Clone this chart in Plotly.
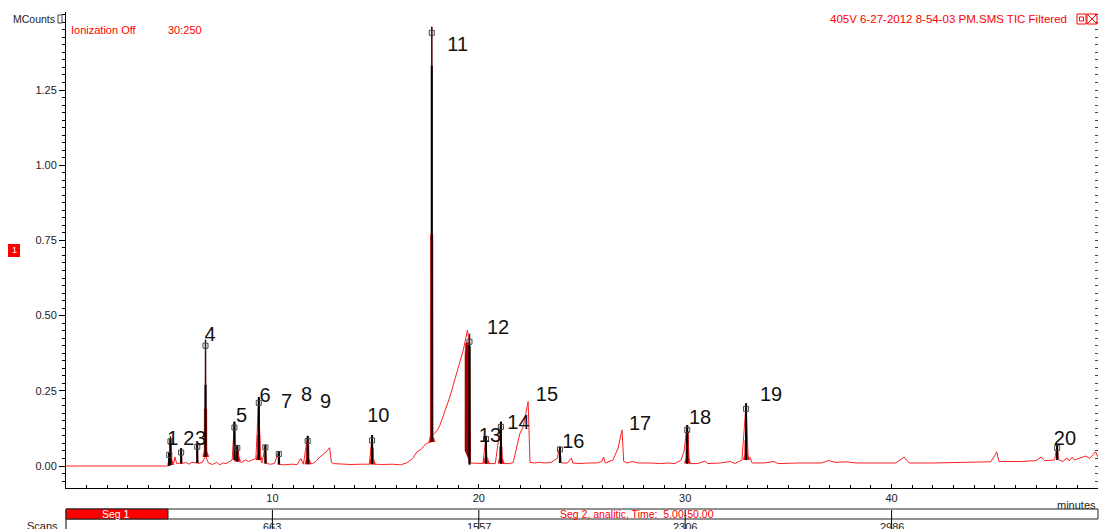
import plotly.graph_objects as go

# ---------------- data ----------------
trace_t = [0, 4.96, 4.99, 5.02, 5.06, 5.12, 5.22, 5.28, 5.36, 5.56, 5.58, 5.62, 5.8, 5.95, 6.1, 6.34,
           6.36, 6.4, 6.6, 6.74, 6.76, 6.78, 6.9, 7.1, 7.3, 7.45, 7.6, 7.75, 7.9, 8.05, 8.16, 8.22,
           8.3, 8.38, 8.5, 8.7, 8.85, 9.0, 9.2, 9.34, 9.42, 9.5, 9.66, 9.72, 9.9, 10.1, 10.31, 10.36,
           10.6, 10.9, 11.2, 11.38, 11.5, 11.71, 11.76, 11.95, 12.1, 12.3, 12.5, 12.65, 12.77, 12.86,
           12.95, 13.3, 13.8, 14.3, 14.7, 14.83, 14.9, 15.3, 15.8, 16.2, 16.5, 16.8, 17.0, 17.2,
           17.45, 17.7, 17.72, 17.74, 18.0, 18.12, 18.35, 18.6, 18.85, 19.09, 19.25, 19.45, 19.55,
           19.6, 19.9, 20.2, 20.35, 20.4, 20.8, 21.07, 21.12, 21.5, 21.67, 21.85, 21.99, 22.15, 22.3,
           22.39, 22.48, 22.7, 22.9, 23.2, 23.5, 23.8, 23.93, 24.0, 24.3, 24.49, 24.55, 24.9, 25.3,
           25.7, 25.95, 26.05, 26.12, 26.5, 26.75, 26.94, 27.02, 27.2, 27.45, 27.7, 28.3, 28.8, 29.2,
           29.5, 29.8, 29.94, 30.1, 30.2, 30.6, 30.95, 31.1, 31.7, 32.2, 32.4, 32.75, 32.95, 33.05,
           33.12, 33.25, 33.8, 34.3, 34.5, 35.5, 36.6, 36.95, 37.3, 37.8, 38.3, 39.0, 40.2, 40.61,
           40.85, 42.0, 43.5, 44.8, 45.0, 45.09, 45.2, 46.3, 47.0, 47.25, 47.4, 47.9, 48.02, 48.1,
           48.3, 48.5, 48.6, 48.75, 48.85, 49.1, 49.4, 49.6, 49.88, 50.0]
trace_v = [0, 0, 0.045, 0.003, 0.098, 0.005, 0.01, 0.03, 0.008, 0.01, 0.059, 0.008, 0.012, 0.006, 0.012, 0.01,
           0.075, 0.008, 0.012, 0.03, 0.42, 0.03, 0.01, 0.005, 0.012, 0.004, 0.01, 0.008, 0.014, 0.02, 0.147, 0.03,
           0.07, 0.015, 0.012, 0.02, 0.015, 0.02, 0.025, 0.229, 0.02, 0.01, 0.07, 0.008, 0.006, 0.008, 0.05, 0.005,
           0.004, 0.006, 0.005, 0.025, 0.006, 0.10, 0.008, 0.008, 0.015, 0.03, 0.04, 0.05, 0.061, 0.012,
           0.008, 0.006, 0.005, 0.006, 0.006, 0.103, 0.006, 0.005, 0.006, 0.004, 0.01, 0.025, 0.047, 0.055,
           0.075, 0.08, 1.46, 0.10, 0.12, 0.136, 0.18, 0.23, 0.29, 0.352, 0.386, 0.452, 0.40,
           0.01, 0.008, 0.008, 0.10, 0.008, 0.008, 0.147, 0.008, 0.008, 0.012, 0.07, 0.108, 0.13, 0.18,
           0.214, 0.012, 0.01, 0.012, 0.01, 0.012, 0.025, 0.064, 0.01, 0.01, 0.027, 0.01, 0.008, 0.01,
           0.01, 0.015, 0.03, 0.01, 0.02, 0.06, 0.12, 0.015, 0.01, 0.015, 0.01, 0.01, 0.008, 0.01,
           0.008, 0.02, 0.047, 0.136, 0.008, 0.008, 0.016, 0.008, 0.01, 0.015, 0.008, 0.02, 0.208, 0.025,
           0.03, 0.01, 0.01, 0.015, 0.008, 0.01, 0.01, 0.018, 0.012, 0.014, 0.01, 0.01, 0.01, 0.03,
           0.01, 0.01, 0.012, 0.014, 0.035, 0.047, 0.015, 0.015, 0.018, 0.03, 0.018, 0.02, 0.072, 0.02,
           0.015, 0.027, 0.017, 0.03, 0.02, 0.025, 0.033, 0.025, 0.047, 0.03]

# identified peaks (black sticks)
pk_t = [5.00, 5.06, 5.58, 6.36, 6.76, 8.16, 8.30, 9.34, 9.66, 10.31, 11.71, 14.83, 17.72, 19.55,
        20.35, 21.07, 23.93, 30.10, 32.95, 48.02]
pk_base = [0.0, 0.003, 0.008, 0.01, 0.03, 0.02, 0.015, 0.02, 0.008, 0.005, 0.006, 0.006, 0.08, 0.005,
           0.008, 0.008, 0.01, 0.008, 0.02, 0.02]
pk_top = [0.045, 0.098, 0.059, 0.075, 0.42, 0.147, 0.07, 0.229, 0.07, 0.05, 0.10, 0.103, 1.46, 0.44,
          0.10, 0.147, 0.064, 0.136, 0.208, 0.072]
pk_thick = [0.045, 0.09, 0.059, 0.075, 0.27, 0.147, 0.07, 0.229, 0.07, 0.05, 0.10, 0.103, 1.33, 0.40,
            0.10, 0.147, 0.064, 0.136, 0.208, 0.072]
pk_mark = [0.037, 0.082, 0.045, 0.064, 0.40, 0.128, 0.06, 0.21, 0.062, 0.04, 0.083, 0.085, 1.44, 0.413,
           0.09, 0.13, 0.055, 0.12, 0.19, 0.06]

# integrated areas (red fills)
fill_t = [5.06, 6.76, 8.30, 9.34, 11.71, 14.83, 17.72, 20.35, 21.07, 30.10, 32.95]
fill_base = [0.003, 0.03, 0.015, 0.02, 0.006, 0.006, 0.08, 0.008, 0.008, 0.008, 0.02]
fill_h = [0.05, 0.19, 0.05, 0.103, 0.07, 0.06, 0.77, 0.015, 0.064, 0.114, 0.086]
fill12_t = [19.33, 19.33, 19.37, 19.52, 19.57, 19.57]
fill12_v = [0.05, 0.37, 0.41, 0.41, 0.39, 0.01]

# peak labels
lab_text = ["1", "2", "3", "4", "5", "6", "7", "8", "9", "10", "11", "12", "13", "14", "15",
            "16", "17", "18", "19", "20"]
lab_t = [5.18, 5.95, 6.52, 6.98, 8.51, 9.64, 10.69, 11.66, 12.58, 15.13, 18.98, 20.93, 20.54,
         21.92, 23.3, 24.58, 27.81, 30.72, 34.16, 48.4]
lab_v = [0.086, 0.086, 0.086, 0.432, 0.164, 0.23, 0.209, 0.233, 0.21, 0.162, 1.396, 0.455, 0.097,
         0.14, 0.233, 0.075, 0.136, 0.156, 0.233, 0.086]

y_ticks = [0, 0.25, 0.5, 0.75, 1.0, 1.25]
x_ticks = [10, 20, 30, 40]
scan_labels = ["663", "1557", "2306", "2986"]
scan_pos = [10, 20, 30, 40]

# ---------------- figure ----------------
W, H = 1103, 529
L, R, T, B = 66, 5, 12, 41
PW, PH = W - L - R, H - T - B
FONT = "Arial, Liberation Sans, sans-serif"


def pxx(xp):
    return (xp - L) / PW


def pxy(yp):
    return (H - B - yp) / PH


fig = go.Figure()

# red fills
for t, b, h in zip(fill_t, fill_base, fill_h):
    fig.add_trace(go.Scatter(
        x=[t - 0.14, t - 0.07, t - 0.06, t + 0.06, t + 0.07, t + 0.16],
        y=[b, b + 0.02, h, h, b + 0.02, b],
        fill="toself", fillcolor="#ff0000", line=dict(color="#ff0000", width=0.5),
        mode="lines", hoverinfo="skip", showlegend=False))
fig.add_trace(go.Scatter(x=fill12_t, y=fill12_v, fill="toself", fillcolor="#a00000",
                         line=dict(color="#a00000", width=0.5), mode="lines",
                         hoverinfo="skip", showlegend=False))

# chromatogram trace
fig.add_trace(go.Scatter(x=trace_t, y=trace_v, mode="lines",
                         line=dict(color="#ff2020", width=1), hoverinfo="skip", showlegend=False))

# black sticks
xs_thin, ys_thin, xs_thick, ys_thick = [], [], [], []
for t, b, top, th in zip(pk_t, pk_base, pk_top, pk_thick):
    xs_thin += [t, t, None]
    ys_thin += [b, top, None]
    xs_thick += [t, t, None]
    ys_thick += [b, th, None]
fig.add_trace(go.Scatter(x=xs_thin, y=ys_thin, mode="lines", line=dict(color="#222222", width=1.5),
                         hoverinfo="skip", showlegend=False))
fig.add_trace(go.Scatter(x=xs_thick, y=ys_thick, mode="lines", line=dict(color="#000000", width=2),
                         hoverinfo="skip", showlegend=False))
fig.add_trace(go.Scatter(x=pk_t, y=pk_mark, mode="markers",
                         marker=dict(symbol="square-open", size=5, color="#444444", line=dict(width=1)),
                         hoverinfo="skip", showlegend=False))

# labels
fig.add_trace(go.Scatter(x=lab_t, y=lab_v, mode="text", text=lab_text,
                         textfont=dict(family=FONT, size=20, color="#111111"),
                         hoverinfo="skip", showlegend=False))

# dummy on right axis for mirrored minor ticks
fig.add_trace(go.Scatter(x=[0], y=[0], yaxis="y2", mode="markers", marker=dict(opacity=0),
                         hoverinfo="skip", showlegend=False))

yr = [-(488 - 466) / 300.8, (466 - 12) / 300.8]

fig.update_layout(
    width=W, height=H, autosize=False,
    margin=dict(l=L, r=R, t=T, b=B),
    plot_bgcolor="white", paper_bgcolor="white",
    font=dict(family=FONT, size=11, color="#222222"),
    xaxis=dict(range=[0, 50], showgrid=False, zeroline=False, showline=True, linecolor="#000",
               linewidth=1, ticks="inside", tickvals=x_ticks, ticklen=4, tickcolor="#000",
               tickfont=dict(size=11, color="#222"),
               minor=dict(tickmode="linear", tick0=0, dtick=1, ticks="inside", ticklen=3,
                          tickcolor="#000", showgrid=False)),
    yaxis=dict(range=yr, showgrid=False, zeroline=False, showline=True, linecolor="#000",
               linewidth=1, ticks="outside", tickvals=y_ticks, tickformat=".2f", ticklen=6,
               tickcolor="#000", tickfont=dict(size=11, color="#222"),
               minor=dict(tickmode="linear", tick0=0, dtick=0.025, ticks="outside", ticklen=3,
                          tickcolor="#000", showgrid=False)),
    yaxis2=dict(range=yr, overlaying="y", side="right", showgrid=False, zeroline=False,
                showline=False, showticklabels=False, ticks="inside", tickmode="linear",
                tick0=0, dtick=0.025, ticklen=3, tickcolor="#444"),
)

ann = []


def add_text(text, xp, yp, xanchor="left", color="#222222", size=11):
    ann.append(dict(text=text, x=pxx(xp), y=pxy(yp), xref="paper", yref="paper",
                    xanchor=xanchor, yanchor="middle", showarrow=False,
                    font=dict(family=FONT, size=size, color=color)))


add_text("MCounts", 57, 19, xanchor="right", size=10.5)
add_text("Ionization Off", 69, 30, color="#ff0000", size=11)
add_text("30:250", 166, 30, color="#ff0000", size=11)
add_text("405V 6-27-2012 8-54-03 PM.SMS TIC Filtered", 1069, 19, xanchor="right",
         color="#ff0000", size=11.5)
add_text("minutes", 1098, 505, xanchor="right", size=11)
add_text("Seg 1", 116, 514, xanchor="center", color="#ffffff", size=10.5)
add_text("Seg 2, analitic, Time:  5.00-50.00", 637, 514, xanchor="center", color="#ff0000", size=10.5)
add_text("Scans", 60, 526, xanchor="right", size=11)
for lab, pos in zip(scan_labels, scan_pos):
    xp = L + pos / 50 * PW
    add_text(lab, xp, 527, xanchor="center", size=11)
add_text("1", 14, 250, xanchor="center", color="#ffffff", size=9)

shapes = []


def rect(x0, y0, x1, y1, fill=None, line="#000", lw=1):
    shapes.append(dict(type="rect", xref="paper", yref="paper", x0=pxx(x0), x1=pxx(x1),
                       y0=pxy(y1), y1=pxy(y0), fillcolor=fill if fill else "rgba(0,0,0,0)",
                       line=dict(color=line, width=lw), layer="above"))


def seg(x0, y0, x1, y1, color="#000", lw=1):
    shapes.append(dict(type="line", xref="paper", yref="paper", x0=pxx(x0), x1=pxx(x1),
                       y0=pxy(y0), y1=pxy(y1), line=dict(color=color, width=lw)))


# bottom segment bar
rect(66, 509, 1098, 519, fill="white", line="#222", lw=1)
rect(66, 509, 168, 519, fill="#ff0000", line="#222", lw=1)
seg(66, 519, 66, 529)
for pos in scan_pos:
    xp = L + pos / 50 * PW
    seg(xp, 510, xp, 529)

# red "1" box
rect(8, 244, 20, 257, fill="#ff0000", line="#ff0000", lw=0)

# top-right icons
rect(1077, 14, 1086, 24, line="#ff0000")
rect(1079.5, 17, 1083.5, 21, line="#ff0000")
rect(1087, 14, 1097, 24, line="#ff0000")
seg(1087, 14, 1097, 24, color="#ff0000")
seg(1087, 24, 1097, 14, color="#ff0000")
# small box after MCounts
rect(58, 15, 62, 23, line="#444")

fig.update_layout(annotations=ann, shapes=shapes)
fig.write_html("out.html", config={"displayModeBar": False},
               post_script="document.body.style.margin='0';document.body.style.overflow='hidden';")
